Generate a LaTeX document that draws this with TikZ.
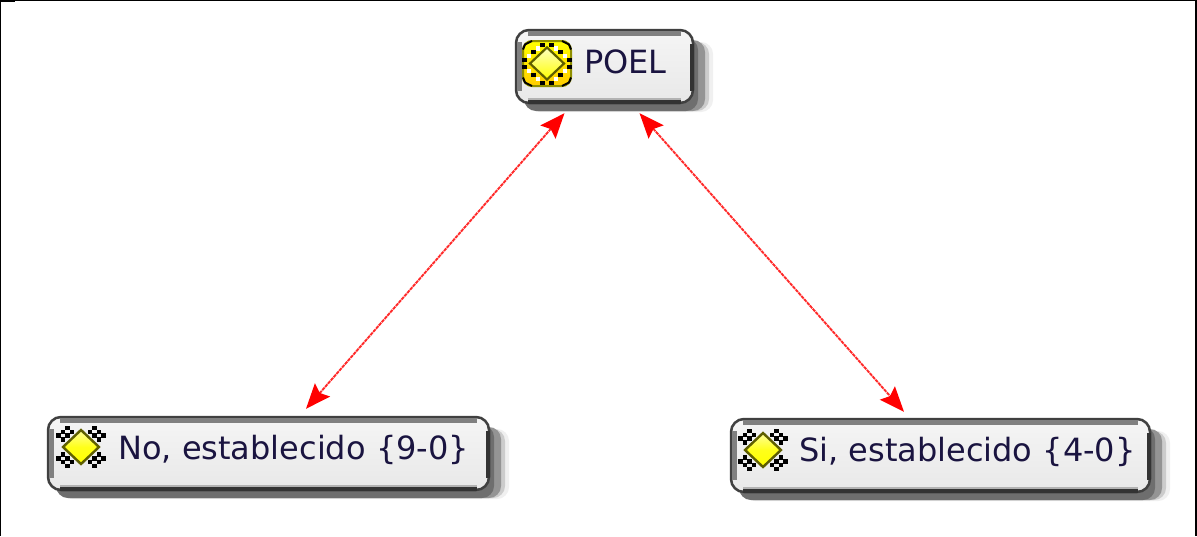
\documentclass[tikz,border=0pt]{standalone}
\usepackage{fontspec}
\setmainfont{DejaVu Sans}
\usetikzlibrary{arrows.meta,shadings}
\definecolor{lbl}{HTML}{1A1440}
\definecolor{linkred}{HTML}{FF2A2A}
\definecolor{olive}{HTML}{5F5F00}
\definecolor{gold}{HTML}{FFCC00}
\tikzset{
  x=1pt,y=-1pt,
  lab/.style={inner sep=0pt,anchor=base west,text=lbl,font=\fontsize{32}{32}\selectfont},
  boxbody/.style={rounded corners=13pt,draw=black!75,line width=2.5pt,top color=white!96!black,bottom color=white!91!black},
  link/.style={draw=linkred,line width=1.9pt,dash pattern=on 3.5pt off 0.8pt,{Stealth[length=25pt,width=20pt,inset=4pt,red]}-{Stealth[length=25pt,width=20pt,inset=4pt,red]}},
  anchorbox/.style={inner sep=0pt,minimum width=0pt,minimum height=0pt},
}
\newcommand{\boxdraw}[4]{%
  \fill[black!6,rounded corners=12pt] (#1+12,#2+12) rectangle (#3+20,#4+9);
  \fill[black!20,rounded corners=12pt] (#1+12,#2+12) rectangle (#3+16,#4+8);
  \fill[black!42,rounded corners=12pt] (#1+10,#2+10) rectangle (#3+12,#4+8);
  \fill[black!57,rounded corners=12pt] (#1+8,#2+8) rectangle (#3+5,#4+8);
  \path[boxbody] (#1,#2) rectangle (#3,#4);
  \draw[black!50,line width=5pt] (#1+12,#2+3) -- (#3-12,#2+3);
  \draw[black!50,line width=5pt] (#1+3,#2+12) -- (#1+3,#4-12);
  \draw[black!80,line width=3.5pt] (#3-1,#2+14) -- (#3-1,#4-12);
  \draw[black!80,line width=3.5pt] (#1+12,#4-1) -- (#3-12,#4-1);
  \draw[black!30,line width=2.5pt] (#1+12,#4-4) -- (#3-12,#4-4);
}
\newcommand{\checkicon}[2]{%
  \begin{scope}[shift={(#1,#2)}]
    \foreach \sx in {-1,1} \foreach \sy in {-1,1} {
      \foreach \a/\b in {9/15.2,13.5/11.4,18/7.6,13.5/19,18/15.2,22.5/11.4} {
        \fill[black] (\sx*\a-2.4,\sy*\b-2.2) rectangle (\sx*\a+2.4,\sy*\b+2.2);
      }
    }
    \path[top color=white!60!yellow,bottom color=yellow,middle color=yellow!90!white,draw=olive,line width=2.4pt]
      (0,-17) -- (18,0) -- (0,17) -- (-18,0) -- cycle;
  \end{scope}
}
\newcommand{\goldicon}[2]{%
  \begin{scope}[shift={(#1,#2)}]
    \path[top color=yellow,bottom color=gold,draw=olive!70!yellow,line width=2pt,rounded corners=9pt]
      (-24,-22.5) rectangle (24,22.5);
    \foreach \sx in {-1,1} \foreach \sy in {-1,1} {
      \draw[black,line width=2pt] (\sx*24,\sy*14) -- (\sx*22,\sy*19) -- (\sx*15,\sy*22.5);
      \foreach \a/\b in {9/15.2,18/7.6} {
        \fill[white] (\sx*\a-2.4,\sy*\b-2.2) rectangle (\sx*\a+2.4,\sy*\b+2.2);
      }
      \foreach \a/\b in {13.5/11.4,4.5/19,22.5/3.8} {
        \fill[black] (\sx*\a-2.2,\sy*\b-2) rectangle (\sx*\a+2.2,\sy*\b+2);
      }
    }
    \path[top color=white!75!yellow,bottom color=yellow,draw=olive,line width=2.2pt]
      (0,-16) -- (17,0) -- (0,16) -- (-17,0) -- cycle;
  \end{scope}
}
\begin{document}
\begin{tikzpicture}
\useasboundingbox (0,0) rectangle (1197,536);
\fill[white] (0,0) rectangle (1197,536);
\fill[black] (0,0) rectangle (1197,1);
\fill[black] (0,0) rectangle (15,2);
\fill[black] (0,0) rectangle (1,536);
\fill[black] (1195,0) rectangle (1197,536);

\boxdraw{516}{30}{693}{103}
\boxdraw{48}{417}{489}{490}
\boxdraw{731}{419}{1150}{492}

\goldicon{547}{63.5}
\checkicon{81}{447}
\checkicon{763}{450}

\node[lab] (poeltxt) at (584,73.5) {POEL};
\node[lab] (notxt) at (118,459) {No, establecido \{9-0\}};
\node[lab] (sitxt) at (799,461.5) {Si, establecido \{4-0\}};

\path (516,30) rectangle (693,103) node[pos=.5,anchorbox,minimum width=177pt,minimum height=73pt] (poel) {};
\path (48,417) rectangle (489,490) node[pos=.5,anchorbox,minimum width=441pt,minimum height=73pt] (no) {};
\path (731,419) rectangle (1150,492) node[pos=.5,anchorbox,minimum width=419pt,minimum height=73pt] (si) {};

\draw[link] ([xshift=-40pt,yshift=-10pt]poel.south) -- ([xshift=37.5pt,yshift=8pt]no.north);
\draw[link] ([xshift=35pt,yshift=-10pt]poel.south) -- ([xshift=-36.5pt,yshift=7pt]si.north);
\end{tikzpicture}
\end{document}
